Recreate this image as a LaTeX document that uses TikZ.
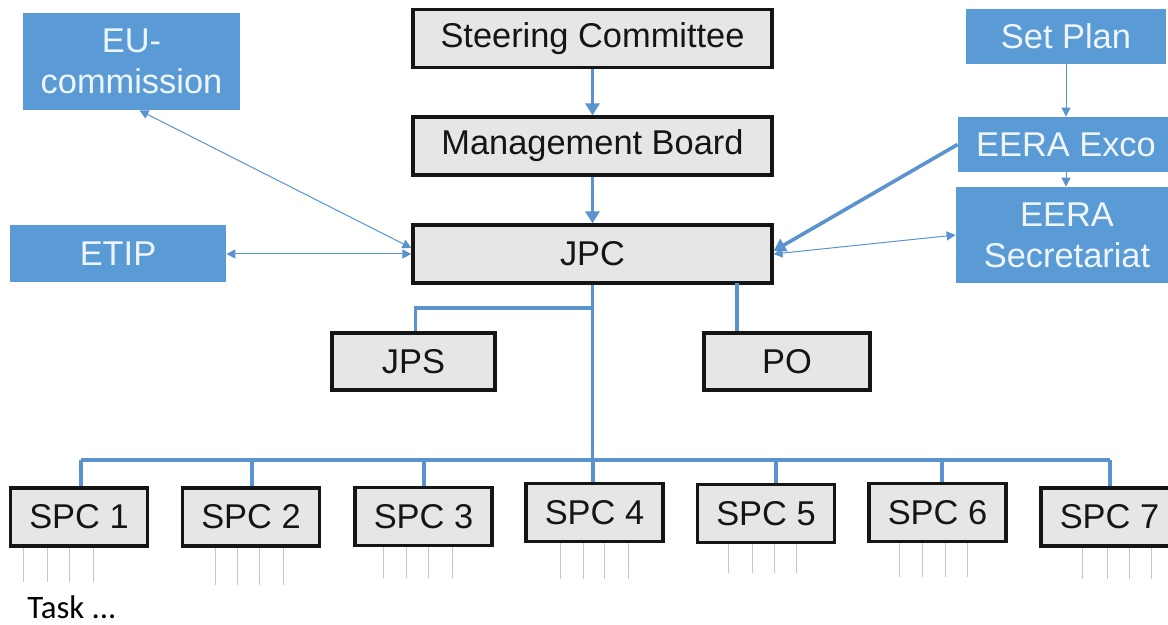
\documentclass[tikz,border=0pt]{standalone}
\usepackage{fontspec}
\setmainfont{Liberation Sans}
\newfontfamily\taskfont{Carlito}
\usetikzlibrary{arrows.meta,positioning,calc}
\definecolor{ink}{HTML}{151515}
\definecolor{boxgrey}{HTML}{E7E6E6}
\definecolor{office}{HTML}{5B9BD5}
\definecolor{wire}{HTML}{5B93CF}
\definecolor{pale}{HTML}{EEF5FC}
\definecolor{taskwire}{HTML}{B9C9DE}

\begin{document}
\begin{tikzpicture}[
    x=0.5pt, y=-0.5pt,
    every node/.style={font=\fontsize{17.2}{20.5}\selectfont, inner sep=0pt},
    greybox/.style={
      fill=boxgrey,
      draw=ink,
      line width=1.6pt,
      text=ink,
      minimum height=29pt
    },
    bluebox/.style={
      fill=office,
      text=pale,
      align=center
    },
    link/.style={draw=wire, line width=1.8pt},
    thinlink/.style={draw=wire, line width=0.5pt},
    bigtip/.style={-{Triangle[width=7pt,length=6pt]}},
    smalltip/.style={{Triangle[width=4.5pt,length=4.5pt]}-{Triangle[width=4.5pt,length=4.5pt]}},
    taskline/.style={draw=taskwire, line width=0.5pt}
  ]
  \useasboundingbox (0,0) rectangle (1168,625);

  % committee chain
  \node[greybox, minimum width=179.5pt] (sc) at (592.5,38.5) {Steering Committee};
  \node[greybox, minimum width=179.5pt] (mb) at (592.5,146) {Management Board};
  \node[greybox, minimum width=179.5pt] (jpc) at (592.5,254) {JPC};

  % outside bodies
  \node[bluebox, minimum width=108.5pt, minimum height=48.5pt] (eu) at (131.5,61.5) {EU-\\commission};
  \node[bluebox, minimum width=108pt, minimum height=28.5pt] (etip) at (118,254) {ETIP};
  \node[bluebox, minimum width=100pt, minimum height=27.5pt] (setplan) at (1066,36.5) {Set Plan};
  \node[bluebox, minimum width=108pt, minimum height=27.5pt] (exco) at (1066,144.5) {EERA Exco};
  \node[bluebox, minimum width=111pt, minimum height=48pt] (secr) at (1067,235) {EERA\\Secretariat};

  % support
  \node[greybox, minimum width=81.5pt, minimum height=28.5pt] (jps) at (413.5,361.5) {JPS};
  \node[greybox, minimum width=83pt, minimum height=28.5pt] (po) at (787,361.5) {PO};

  % sub-programmes
  \foreach \i/\x/\y in {1/79/517, 2/251/517, 3/423.5/516.5, 4/594.5/512.5,
                        5/766/513.5, 6/937.5/512.5, 7/1109.5/517}
    \node[greybox, minimum width=68.5pt] (spc\i) at (\x,\y) {SPC \i};

  \node[font=\taskfont\fontsize{16.4}{18}\selectfont, text depth=0pt, anchor=base west] (task) at (27,618) {Task ...};

  % arrows in the top part
  \draw[link, bigtip] (sc.south) -- (mb.north);
  \draw[link, bigtip] (mb.south) -- (jpc.north);
  \draw[thinlink, smalltip] ([xshift=4pt]eu.south) -- ($(jpc.west)+(0,-6)$);
  \draw[thinlink, smalltip] (etip.east) -- (jpc.west);
  \draw[thinlink, -{Triangle[width=4.5pt,length=4.5pt]}] (setplan.south) -- (setplan.south |- exco.north);
  \draw[thinlink, -{Triangle[width=4.5pt,length=4.5pt]}] (exco.south) -- (exco.south |- secr.north);
  \draw[link, bigtip] (exco.west) -- ($(jpc.east)+(0,-3)$);
  \draw[thinlink, smalltip] (jpc.east) -- (secr.west);

  % tree below JPC
  \coordinate (jpsfork) at (593,308);
  \coordinate (pofoot) at (737,283);
  \coordinate (busL) at (81,460);
  \coordinate (busR) at (1110,460);
  \draw[link] (jpc.south) -- (jpc.south |- busL);
  \draw[link] (jpsfork) -| ([xshift=1pt]jps.north);
  \draw[link] (pofoot) -- (pofoot |- po.north);
  \draw[link] (busL) -- (busR);
  \foreach \i/\x in {1/81, 2/252, 3/424, 4/593, 5/776, 6/942, 7/1110} {
    \coordinate (drop\i) at (\x,460);
    \draw[link] (drop\i) -- (drop\i |- spc\i.north);
  }

  % task stubs
  \foreach \i/\xa/\xb/\xc/\xd/\yend in {1/23/47/69/93/582, 2/215/237/259/283/585,
      3/383/406/428/452/578, 4/560/583/604/628/579, 5/728/752/774/796/573,
      6/899/922/945/967/577, 7/1082/1107/1129/1151/579}
    \foreach \x in {\xa,\xb,\xc,\xd} {
      \coordinate (t) at (\x,\yend);
      \draw[taskline] (t |- spc\i.south) -- (t);
    }
\end{tikzpicture}
\end{document}
